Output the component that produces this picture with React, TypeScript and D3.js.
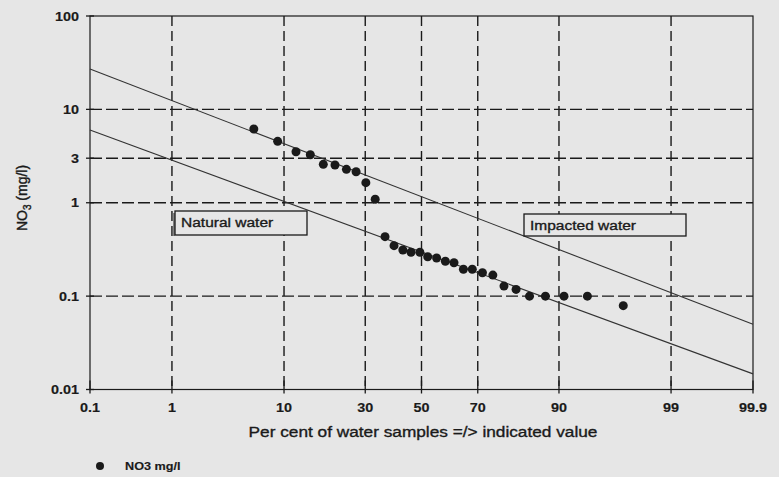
import React from "react";
import * as d3 from "d3";

// ---- data ----
const probTicks = [0.1, 1, 10, 30, 50, 70, 90, 99, 99.9];
const probTickLabels = ["0.1", "1", "10", "30", "50", "70", "90", "99", "99.9"];
const probGrid = [1, 10, 30, 50, 70, 90, 99];
const yTicks = [0.01, 0.1, 1, 3, 10, 100];
const yTickLabels = ["0.01", "0.1", "1", "3", "10", "100"];
const yGrid = [0.1, 1, 3, 10];

const samplePercent = [
  5.9, 9.0, 12.1, 15.0, 18.0, 21.0, 24.2, 27.1, 30.2, 33.3, 36.7, 39.9, 43.1, 46.1, 49.4,
  52.3, 55.6, 58.8, 61.9, 65.2, 68.2, 71.5, 74.7, 77.9, 81.1, 84.3, 87.6, 90.8, 93.9, 97.0,
];
const no3Values = [
  6.17, 4.55, 3.52, 3.27, 2.58, 2.54, 2.28, 2.15, 1.64, 1.09, 0.433, 0.347, 0.312, 0.295, 0.295,
  0.264, 0.256, 0.236, 0.228, 0.194, 0.194, 0.178, 0.168, 0.128, 0.118, 0.1, 0.1, 0.1, 0.1, 0.079,
];

// boundary lines (percent, value)
const impactedLinePercent = [0.1, 99.9];
const impactedLineValue = [27, 0.05];
const naturalLinePercent = [0.1, 99.9];
const naturalLineValue = [6, 0.0147];

// ---- inverse normal CDF (for the probability axis transform) ----
function normInv(p: number): number {
  const a = [-3.969683028665376e1, 2.209460984245205e2, -2.759285104469687e2, 1.38357751867269e2, -3.066479806614716e1, 2.506628277459239];
  const b = [-5.447609879822406e1, 1.615858368580409e2, -1.556989798598866e2, 6.680131188771972e1, -1.328068155288572e1];
  const c = [-7.784894002430293e-3, -3.223964580411365e-1, -2.400758277161838, -2.549732539343734, 4.374664141464968, 2.938163982698783];
  const d = [7.784695709041462e-3, 3.224671290700398e-1, 2.445134137142996, 3.754408661907416];
  const pl = 0.02425;
  let q: number, r: number;
  if (p < pl) {
    q = Math.sqrt(-2 * Math.log(p));
    return (((((c[0] * q + c[1]) * q + c[2]) * q + c[3]) * q + c[4]) * q + c[5]) / ((((d[0] * q + d[1]) * q + d[2]) * q + d[3]) * q + 1);
  }
  if (p > 1 - pl) {
    q = Math.sqrt(-2 * Math.log(1 - p));
    return -(((((c[0] * q + c[1]) * q + c[2]) * q + c[3]) * q + c[4]) * q + c[5]) / ((((d[0] * q + d[1]) * q + d[2]) * q + d[3]) * q + 1);
  }
  q = p - 0.5;
  r = q * q;
  return ((((((a[0] * r + a[1]) * r + a[2]) * r + a[3]) * r + a[4]) * r + a[5]) * q) / (((((b[0] * r + b[1]) * r + b[2]) * r + b[3]) * r + b[4]) * r + 1);
}

const W = 779;
const H = 477;
const L = 90, R = 753, T = 16, B = 389.5;
const INK = "#1a1a1a";
const BG = "#e6e6e6";
const FONT = "'Liberation Sans', Arial, sans-serif";
const SX = 1.15;

const zScale = d3.scaleLinear().domain([normInv(0.001), normInv(0.999)]).range([L, R]);
const xp = (pct: number) => zScale(normInv(pct / 100));
const y = d3.scaleLog().domain([0.01, 100]).range([B, T]);

function T2({ x, yy, anchor = "start", size, weight = "normal", children }: any) {
  return (
    <g transform={`translate(${x},${yy}) scale(${SX},1)`}>
      <text
        textAnchor={anchor}
        fontSize={size}
        fontWeight={weight}
        fill={INK}
        stroke={INK}
        strokeWidth={weight === "bold" ? 0.15 : 0.35}
        fontFamily={FONT}
      >
        {children}
      </text>
    </g>
  );
}

export default function App() {
  const lineGen = d3
    .line<[number, number]>()
    .x((d) => xp(d[0]))
    .y((d) => y(d[1]));
  const impacted = impactedLinePercent.map((p, i) => [p, impactedLineValue[i]] as [number, number]);
  const natural = naturalLinePercent.map((p, i) => [p, naturalLineValue[i]] as [number, number]);

  return (
    <svg width={W} height={H} style={{ position: "absolute", left: 0, top: 0, background: BG }}>
      <rect x={0} y={0} width={W} height={H} fill={BG} />
      {/* grid */}
      {probGrid.map((p) => (
        <line key={"vg" + p} x1={xp(p)} x2={xp(p)} y1={T} y2={B} stroke={INK} strokeWidth={1.4} strokeDasharray="10,5" />
      ))}
      {yGrid.map((v) => (
        <line key={"hg" + v} x1={L} x2={R} y1={y(v)} y2={y(v)} stroke={INK} strokeWidth={1.4} strokeDasharray="12,4" />
      ))}
      {/* frame */}
      <rect x={L} y={T} width={R - L} height={B - T} fill="none" stroke={INK} strokeWidth={1.2} />
      {/* ticks */}
      {probTicks.map((p) => (
        <line key={"xt" + p} x1={xp(p)} x2={xp(p)} y1={B - 9} y2={B + 4} stroke={INK} strokeWidth={1.3} />
      ))}
      {yTicks.map((v) => (
        <line key={"yt" + v} x1={L - 4} x2={L + 4} y1={y(v)} y2={y(v)} stroke={INK} strokeWidth={1.3} />
      ))}
      {/* boundary lines */}
      <path d={lineGen(impacted) || ""} fill="none" stroke="#333" strokeWidth={1.1} />
      <path d={lineGen(natural) || ""} fill="none" stroke="#333" strokeWidth={1.1} />
      {/* text boxes */}
      <rect x={175} y={211} width={132} height={24} fill={BG} stroke={INK} strokeWidth={1.3} />
      <line x1={174} x2={174} y1={213} y2={236} stroke={INK} strokeWidth={1} />
      <T2 x={181} yy={227} size={13.5}>Natural water</T2>
      <rect x={524} y={214} width={162} height={22} fill={BG} stroke={INK} strokeWidth={1.3} />
      <T2 x={530} yy={229.5} size={13.5}>Impacted water</T2>
      {/* points */}
      {samplePercent.map((p, i) => (
        <circle key={"pt" + i} cx={xp(p)} cy={y(no3Values[i])} r={4.5} fill={INK} />
      ))}
      {/* tick labels */}
      {probTicks.map((p, i) => (
        <T2 key={"xl" + p} x={xp(p)} yy={412} anchor="middle" size={12.5} weight="bold">
          {probTickLabels[i]}
        </T2>
      ))}
      {yTicks.map((v, i) => (
        <T2 key={"yl" + v} x={79} yy={y(v) + 4.5} anchor="end" size={12.5} weight="bold">
          {yTickLabels[i]}
        </T2>
      ))}
      {/* axis titles */}
      <T2 x={423} yy={437} anchor="middle" size={15}>
        Per cent of water samples =/&gt; indicated value
      </T2>
      <text
        transform="translate(27,198) rotate(-90)"
        textAnchor="middle"
        fontSize={14}
        fill={INK}
        stroke={INK}
        strokeWidth={0.4}
        fontFamily={FONT}
      >
        NO
        <tspan fontSize={10} dy={4}>3</tspan>
        <tspan dy={-4}> (mg/l)</tspan>
      </text>
      {/* legend */}
      <circle cx={100} cy={466} r={4} fill={INK} />
      <T2 x={125} yy={470} size={11} weight="bold">NO3 mg/l</T2>
    </svg>
  );
}
